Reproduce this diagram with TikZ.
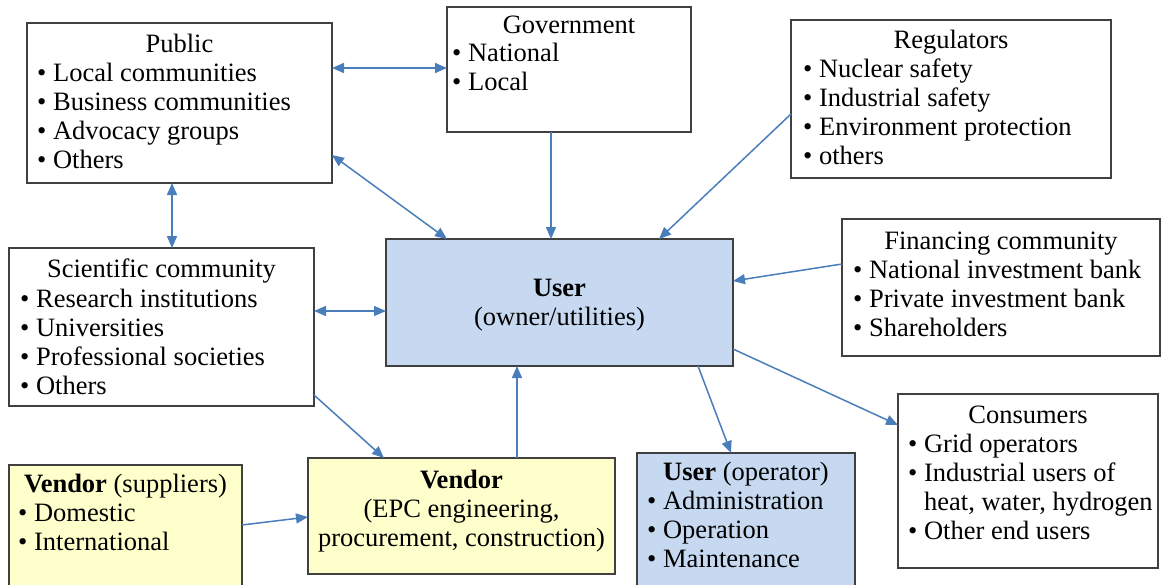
\documentclass[tikz,border=0pt]{standalone}
\usepackage{fontspec}
\setmainfont{Liberation Serif}
\usetikzlibrary{arrows.meta}
\definecolor{boxline}{HTML}{404040}
\definecolor{linkblue}{HTML}{4A7EBB}
\definecolor{ownerblue}{HTML}{C6D9F1}
\definecolor{vendoryellow}{HTML}{FFFFCC}

\begin{document}
\begin{tikzpicture}[x=1pt,y=-1pt,
  box/.style={draw=boxline, line width=1.5pt, fill=white, anchor=north west,
    inner sep=0pt, outer sep=0pt},
  bluebox/.style={box, fill=ownerblue},
  yellowbox/.style={box, fill=vendoryellow},
  txt/.style={font=\fontsize{26.5}{29}\selectfont, inner sep=0pt, text=black},
  heading/.style={txt, anchor=base},
  items/.style={txt, align=left, anchor=north west},
  central/.style={txt, align=center, anchor=north},
  link/.style={draw=linkblue, line width=1.5pt},
  to/.style={link, -{Triangle[length=12pt,width=10pt]}},
  both/.style={link, {Triangle[length=12pt,width=10pt]}-{Triangle[length=12pt,width=10pt]}}
]
\path[use as bounding box, clip] (0,0) rectangle (1162,584);

% ---- boxes ----
\node[box, minimum width=305, minimum height=160] (public) at (27,23) {};
\node[box, minimum width=244, minimum height=125] (gov) at (447,7) {};
\node[box, minimum width=320, minimum height=158] (reg) at (791,20) {};
\node[box, minimum width=318, minimum height=137] (fin) at (842,219) {};
\node[box, minimum width=305, minimum height=158] (sci) at (9,248) {};
\node[bluebox, minimum width=347, minimum height=127] (user) at (386,239) {};
\node[yellowbox, minimum width=307, minimum height=116] (epc) at (308,458) {};
\node[yellowbox, minimum width=233, minimum height=140] (sup) at (9,465) {};
\node[bluebox, minimum width=218, minimum height=150] (op) at (637,453) {};
\node[box, minimum width=260, minimum height=174] (cons) at (898,394) {};

% ---- texts ----
\node[heading] (public-h) at (public.north |- 0,52) {Public};
\node[items] (public-l) at (37,60.7) {\strut• Local communities\\• Business communities\\• Advocacy groups\\• Others};

\node[heading] (gov-h) at (gov.north |- 0,33) {Government};
\node[items] (gov-l) at (452,40.7) {\strut• National\\• Local};

\node[heading] (reg-h) at (reg.north |- 0,48) {Regulators};
\node[items] (reg-l) at (803,56.7) {\strut• Nuclear safety\\• Industrial safety\\• Environment protection\\• others};

\node[heading] (fin-h) at (fin.north |- 0,249) {Financing community};
\node[items] (fin-l) at (853,257.7) {\strut• National investment bank\\• Private investment bank\\• Shareholders};

\node[heading] (sci-h) at (sci.north |- 0,277) {Scientific community};
\node[items] (sci-l) at (20,286.7) {\strut• Research institutions\\• Universities\\• Professional societies\\• Others};

\node[central] (user-t) at (user.north |- 0,275.7) {\strut\textbf{User}\\(owner/utilities)};

\node[central] (epc-t) at (epc.north |- 0,467.7) {\strut\textbf{Vendor}\\(EPC engineering,\\procurement, construction)};

\node[heading] (sup-h) at (sup.north |- 0,492) {\textbf{Vendor} (suppliers)};
\node[items] (sup-l) at (18,500.7) {\strut• Domestic\\• International};

\node[heading] (op-h) at (op.north |- 0,480) {\textbf{User} (operator)};
\node[items] (op-l) at (647,488.7) {\strut• Administration\\• Operation\\• Maintenance};

\node[heading] (cons-h) at (cons.north |- 0,423) {Consumers};
\node[items] (cons-l) at (908,431.7) {\strut• Grid operators\\• Industrial users of\\\hphantom{• }heat, water, hydrogen\\• Other end users};

% ---- connectors ----
\draw[both] (public.east |- 0,68) -- (gov.west |- 0,68);
\draw[both] (public.east |- 0,155) -- (user.north -| 447,0);
\draw[both] (public.south -| 172,0) -- (sci.north -| 172,0);
\draw[to] (gov.south -| 551,0) -- (user.north -| 551,0);
\draw[to] (reg.west |- 0,114) -- (user.north -| 659,0);
\draw[to] (fin.west |- 0,264) -- (user.east |- 0,281);
\draw[both] (sci.east |- 0,311) -- (user.west |- 0,311);
\draw[to] (sci.east |- 0,395) -- (epc.north -| 384,0);
\draw[to] (epc.north -| 517,0) -- (user.south -| 517,0);
\draw[to] (user.south -| 698,0) -- (op.north -| 731,0);
\draw[to] (user.east |- 0,349) -- (cons.west |- 0,425);
\draw[to] (sup.east |- 0,525) -- (epc.west |- 0,517);
\end{tikzpicture}
\end{document}
